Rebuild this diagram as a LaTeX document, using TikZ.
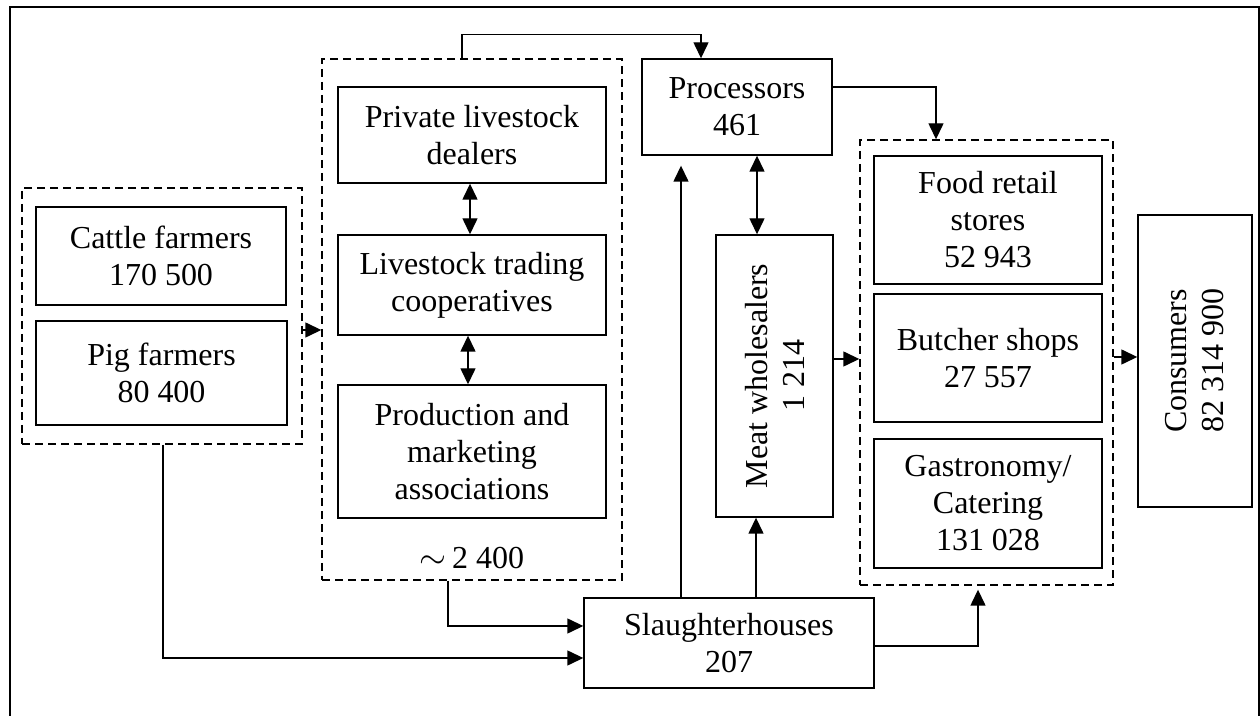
\documentclass[tikz,border=0pt]{standalone}
\usepackage{fontspec}
\setmainfont{Liberation Serif}
\usetikzlibrary{arrows.meta}

\begin{document}
\begin{tikzpicture}[x=0.5pt, y=-0.5pt,
  every node/.style={font=\fontsize{16pt}{18.5pt}\selectfont, align=center, inner sep=0pt},
  box/.style={draw, line width=0.7pt},
  group/.style={draw, line width=0.7pt, dash pattern=on 4pt off 2.5pt},
  arr/.style={line width=0.7pt, -{Triangle[length=8pt, width=7.5pt]}},
  darr/.style={line width=0.7pt, {Triangle[length=8pt, width=7.5pt]}-{Triangle[length=8pt, width=7.5pt]}}
]
\useasboundingbox (0,0) rectangle (1260,716);

% outer frame
\draw[line width=0.9pt] (10,716) -- (10,7) -- (1259,7) -- (1259,716);

% farmers
\node[group, minimum width=140pt, minimum height=128pt] (g1) at (162,316) {};
\node[box, minimum width=125pt, minimum height=49pt] (cattle) at (161,256) {Cattle farmers\\170 500};
\node[box, minimum width=125.5pt, minimum height=52pt] (pig) at (161.5,373) {Pig farmers\\80 400};

% livestock trade
\node[group, minimum width=150pt, minimum height=260.5pt] (g2) at (472,319.5) {};
\node[box, minimum width=134pt, minimum height=48pt] (dealers) at (472,135) {Private livestock\\dealers};
\node[box, minimum width=134pt, minimum height=50pt] (coops) at (472,285) {Livestock trading\\cooperatives};
\node[box, minimum width=134pt, minimum height=66.5pt] (assoc) at (472,451.5) {Production and\\marketing\\associations};
\node (tradecount) at (472,558) {$\sim$\,2 400};

% processing and wholesale
\node[box, minimum width=95pt, minimum height=48pt] (proc) at (737,107) {Processors\\461};
\node[box, minimum width=58.5pt, minimum height=141pt] (whole) at (774.5,376) {};
\node[rotate=90] (wholetext) at (whole.center) {Meat wholesalers\\1 214};
\node[box, minimum width=145pt, minimum height=45pt] (slaughter) at (729,643) {Slaughterhouses\\207};

% retail
\node[group, minimum width=126.5pt, minimum height=222.5pt] (g3) at (986.5,362.5) {};
\node[box, minimum width=114pt, minimum height=64pt] (food) at (988,220) {Food retail\\stores\\52 943};
\node[box, minimum width=114pt, minimum height=64pt] (butcher) at (988,358) {Butcher shops\\27 557};
\node[box, minimum width=114pt, minimum height=64.5pt] (gastro) at (988,503.5) {Gastronomy/\\Catering\\131 028};

% consumers
\node[box, minimum width=57pt, minimum height=146pt] (cons) at (1195,361) {};
\node[rotate=90] (constext) at (cons.center) {Consumers\\82 314 900};

% connectors
\coordinate (a1) at ([yshift=-7pt]g1.east);
\draw[arr] (a1) -- (a1 -| g2.west);

\draw[arr] ([xshift=-5pt]g2.north) -- ++(0,12pt) -| ([xshift=-18pt]proc.north);
\draw[arr] ([yshift=10pt]proc.east) -| ([xshift=-25.25pt]g3.north);

\coordinate (d1) at ([xshift=-1pt]dealers.south);
\draw[darr] (d1) -- (d1 |- coops.north);
\coordinate (d2) at ([xshift=-2pt]coops.south);
\draw[darr] (d2) -- (d2 |- assoc.north);
\coordinate (d3) at ([xshift=10pt]proc.south);
\draw[darr] (d3) -- (d3 |- whole.north);

\coordinate (w1) at ([yshift=8.5pt]whole.east);
\draw[arr] (w1) -- (w1 -| g3.west);
\coordinate (r1) at ([yshift=2.75pt]g3.east);
\draw[arr] (r1) -- (r1 -| cons.west);

\coordinate (s1) at ([xshift=-24pt]slaughter.north);
\draw[arr, shorten >=5pt] (s1) -- (s1 |- proc.south);
\coordinate (s2) at ([xshift=13.5pt]slaughter.north);
\draw[arr] (s2) -- (s2 |- whole.south);

\draw[arr] ([xshift=-12pt]g2.south) |- ([yshift=8.5pt]slaughter.west);
\draw[arr] ([xshift=0.5pt]g1.south) |- ([yshift=-7.5pt]slaughter.west);
\draw[arr, shorten >=2pt] ([yshift=-1.5pt]slaughter.east) -| ([xshift=-4.25pt]g3.south);
\end{tikzpicture}
\end{document}
